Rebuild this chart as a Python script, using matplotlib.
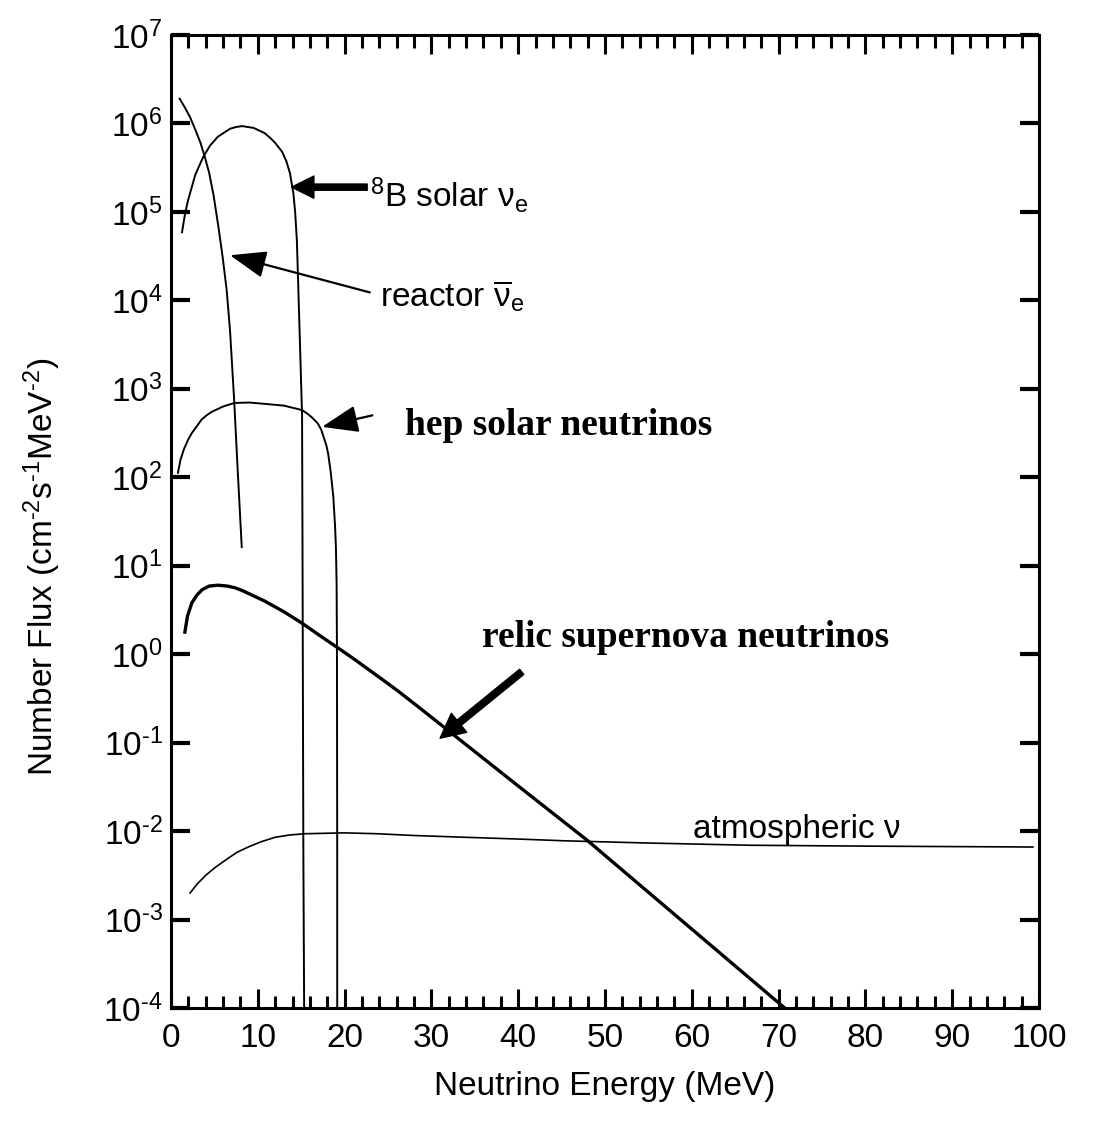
import numpy as np
import matplotlib
matplotlib.use("Agg")
import matplotlib.pyplot as plt
from matplotlib.ticker import MultipleLocator, LogLocator, NullLocator, FuncFormatter

plt.rcParams['font.family'] = ['Liberation Sans', 'DejaVu Sans']
plt.rcParams['mathtext.fontset'] = 'custom'
plt.rcParams['mathtext.rm'] = 'Liberation Sans'
plt.rcParams['mathtext.it'] = 'Liberation Sans:italic'
plt.rcParams['mathtext.bf'] = 'Liberation Sans:bold'
plt.rcParams['mathtext.default'] = 'regular'
plt.rcParams['axes.unicode_minus'] = False

# ---- data (energy in MeV, log10 of number flux) ----
reactor_E = [1.0, 1.6, 2.2, 2.8, 3.4, 3.9, 4.4, 4.9, 5.45, 5.95, 6.41, 6.8, 7.26, 7.7, 8.15]
reactor_logF = [6.28, 6.18, 6.07, 5.93, 5.78, 5.62, 5.44, 5.19, 4.84, 4.49, 4.12, 3.66, 2.90,
                2.05, 1.21]

b8_E = [1.27, 1.6, 1.96, 2.8, 3.7, 4.5, 5.4, 6.8, 7.5, 8.2, 9.5, 10.8, 11.5, 12.0, 12.8,
        13.3, 13.7, 14.1, 14.3, 14.5, 14.65, 14.8, 14.95, 15.1, 15.15, 15.25, 15.35]
b8_logF = [4.77, 4.97, 5.13, 5.42, 5.62, 5.75, 5.85, 5.94, 5.96, 5.97, 5.95, 5.89, 5.83,
           5.78, 5.68, 5.57, 5.44, 5.21, 5.00, 4.68, 4.20, 3.70, 3.20, 2.70, 1.20, -2.30,
           -4.20]

hep_E = [0.8, 1.1, 1.5, 2.0, 2.4, 3.0, 3.5, 4.1, 4.7, 6.0, 7.3, 9.0, 10.8, 13.0, 15.1,
         15.7, 16.2, 16.9, 17.3, 17.6, 17.9, 18.1, 18.4, 18.7, 18.9, 19.0, 19.08, 19.12,
         19.15, 19.15]
hep_logF = [2.05, 2.20, 2.32, 2.43, 2.50, 2.58, 2.65, 2.70, 2.74, 2.80, 2.84, 2.845, 2.83,
            2.81, 2.76, 2.72, 2.68, 2.61, 2.54, 2.45, 2.36, 2.27, 2.06, 1.78, 1.45, 1.21,
            0.80, 0.00, -2.30, -4.20]

relic_E = [1.6, 1.9, 2.4, 3.0, 3.6, 4.4, 5.4, 6.5, 7.4, 8.2, 9.5, 10.8, 13.0, 15.1, 17.0,
           19.1, 20.8, 22.5, 24.4, 26.2, 29.0, 31.9, 40.0, 47.9, 70.7]
relic_logF = [0.25, 0.43, 0.58, 0.67, 0.73, 0.77, 0.78, 0.77, 0.75, 0.72, 0.66, 0.60, 0.48,
              0.35, 0.22, 0.08, -0.035, -0.155, -0.29, -0.42, -0.635, -0.86, -1.49, -2.10,
              -4.00]

atmo_E = [2.2, 3.0, 4.0, 5.1, 6.4, 7.6, 8.9, 10.4, 12.0, 13.6, 15.4, 20.0, 23.8, 28.0,
          33.9, 40.0, 45.4, 55.0, 66.7, 80.0, 99.3]
atmo_logF = [-2.70, -2.60, -2.50, -2.41, -2.32, -2.24, -2.18, -2.12, -2.07, -2.045, -2.03,
             -2.02, -2.03, -2.05, -2.07, -2.09, -2.11, -2.135, -2.16, -2.17, -2.18]

x_ticks = [0, 10, 20, 30, 40, 50, 60, 70, 80, 90, 100]

# ---- figure ----
W, H = 1099, 1131
fig = plt.figure(figsize=(W / 100, H / 100), dpi=100)
ax = fig.add_axes([171 / W, 1 - 1008 / H, (1039 - 171) / W, (1008 - 35) / H])

def F(logs):
    return np.power(10.0, np.array(logs))

ax.plot(reactor_E, F(reactor_logF), color='black', lw=1.4)
ax.plot(b8_E, F(b8_logF), color='black', lw=1.4)
ax.plot(hep_E, F(hep_logF), color='black', lw=1.4)
ax.plot(relic_E, F(relic_logF), color='black', lw=2.4)
ax.plot(atmo_E, F(atmo_logF), color='black', lw=1.2)

ax.set_yscale('log')
ax.set_xlim(0, 100)
ax.set_ylim(1e-4, 1e7)

ax.xaxis.set_minor_locator(MultipleLocator(2))
ax.set_xticks(x_ticks)
ax.set_xticklabels([str(t) for t in x_ticks])
ax.yaxis.set_major_locator(LogLocator(base=10, numticks=20))
ax.yaxis.set_minor_locator(NullLocator())


def exp_fmt(v, pos):
    e = int(round(np.log10(v)))
    s = str(abs(e))
    if e < 0:
        s = '\u2010' + s
    return r'$10^{%s}$' % s


ax.yaxis.set_major_formatter(FuncFormatter(exp_fmt))

for s in ax.spines.values():
    s.set_linewidth(2.2)

ax.tick_params(axis='x', which='major', direction='in', top=True, bottom=True,
               length=14, width=2.2, labelsize=24, pad=11)
ax.tick_params(axis='x', which='minor', direction='in', top=True, bottom=True,
               length=9, width=2.2)
ax.tick_params(axis='y', which='major', direction='in', left=True, right=True,
               length=14, width=3.0, labelsize=24, pad=6)

fig.text(605 / W, 1 - 1086 / H, 'Neutrino Energy (MeV)', ha='center', va='center', fontsize=24)
fig.text(42 / W, 1 - 567 / H, 'Number Flux (cm$^{\u20102}$s$^{\u20101}$MeV$^{\u20102}$)',
         rotation=90, ha='center', va='center', fontsize=24)

thick = dict(arrowstyle='simple,head_length=1.0,head_width=1.0,tail_width=0.28',
             color='black', mutation_scale=16, shrinkA=0, shrinkB=0)
thin = dict(arrowstyle='-|>,head_length=1.6,head_width=0.6', color='black',
            lw=1.6, mutation_scale=14, shrinkA=0, shrinkB=0)

# 8B label
ax.annotate('', xy=(13.9, 10 ** 5.28), xytext=(22.6, 10 ** 5.28), arrowprops=thick)
ax.text(22.9, 10 ** 5.19, r'$^{8}$B solar ν$_{e}$', fontsize=24, ha='left', va='center')

# reactor label
ax.annotate('', xy=(6.8, 10 ** 4.51), xytext=(22.9, 10 ** 4.09), arrowprops=thin)
ax.text(24.1, 10 ** 4.05, r'reactor $\overline{\mathrm{\nu}}_{e}$', fontsize=24,
        ha='left', va='center')

# hep label
ax.annotate('', xy=(17.4, 10 ** 2.57), xytext=(23.2, 10 ** 2.70), arrowprops=thin)
ax.text(27.0, 10 ** 2.59, 'hep solar neutrinos', fontsize=27, fontweight='bold',
        family=['Liberation Serif', 'DejaVu Serif'], ha='left', va='center')

# relic label
thick2 = dict(thick)
thick2['arrowstyle'] = 'simple,head_length=1.1,head_width=1.1,tail_width=0.3'
ax.annotate('', xy=(31.0, 10 ** -0.95), xytext=(40.4, 10 ** -0.20), arrowprops=thick2)
ax.text(35.8, 10 ** 0.19, 'relic supernova neutrinos', fontsize=27, fontweight='bold',
        family=['Liberation Serif', 'DejaVu Serif'], ha='left', va='center')

# atmospheric label
ax.text(60.1, 10 ** -2.08, 'atmospheric ν', fontsize=24, ha='left', va='baseline')

fig.savefig('out.png', dpi=100)
